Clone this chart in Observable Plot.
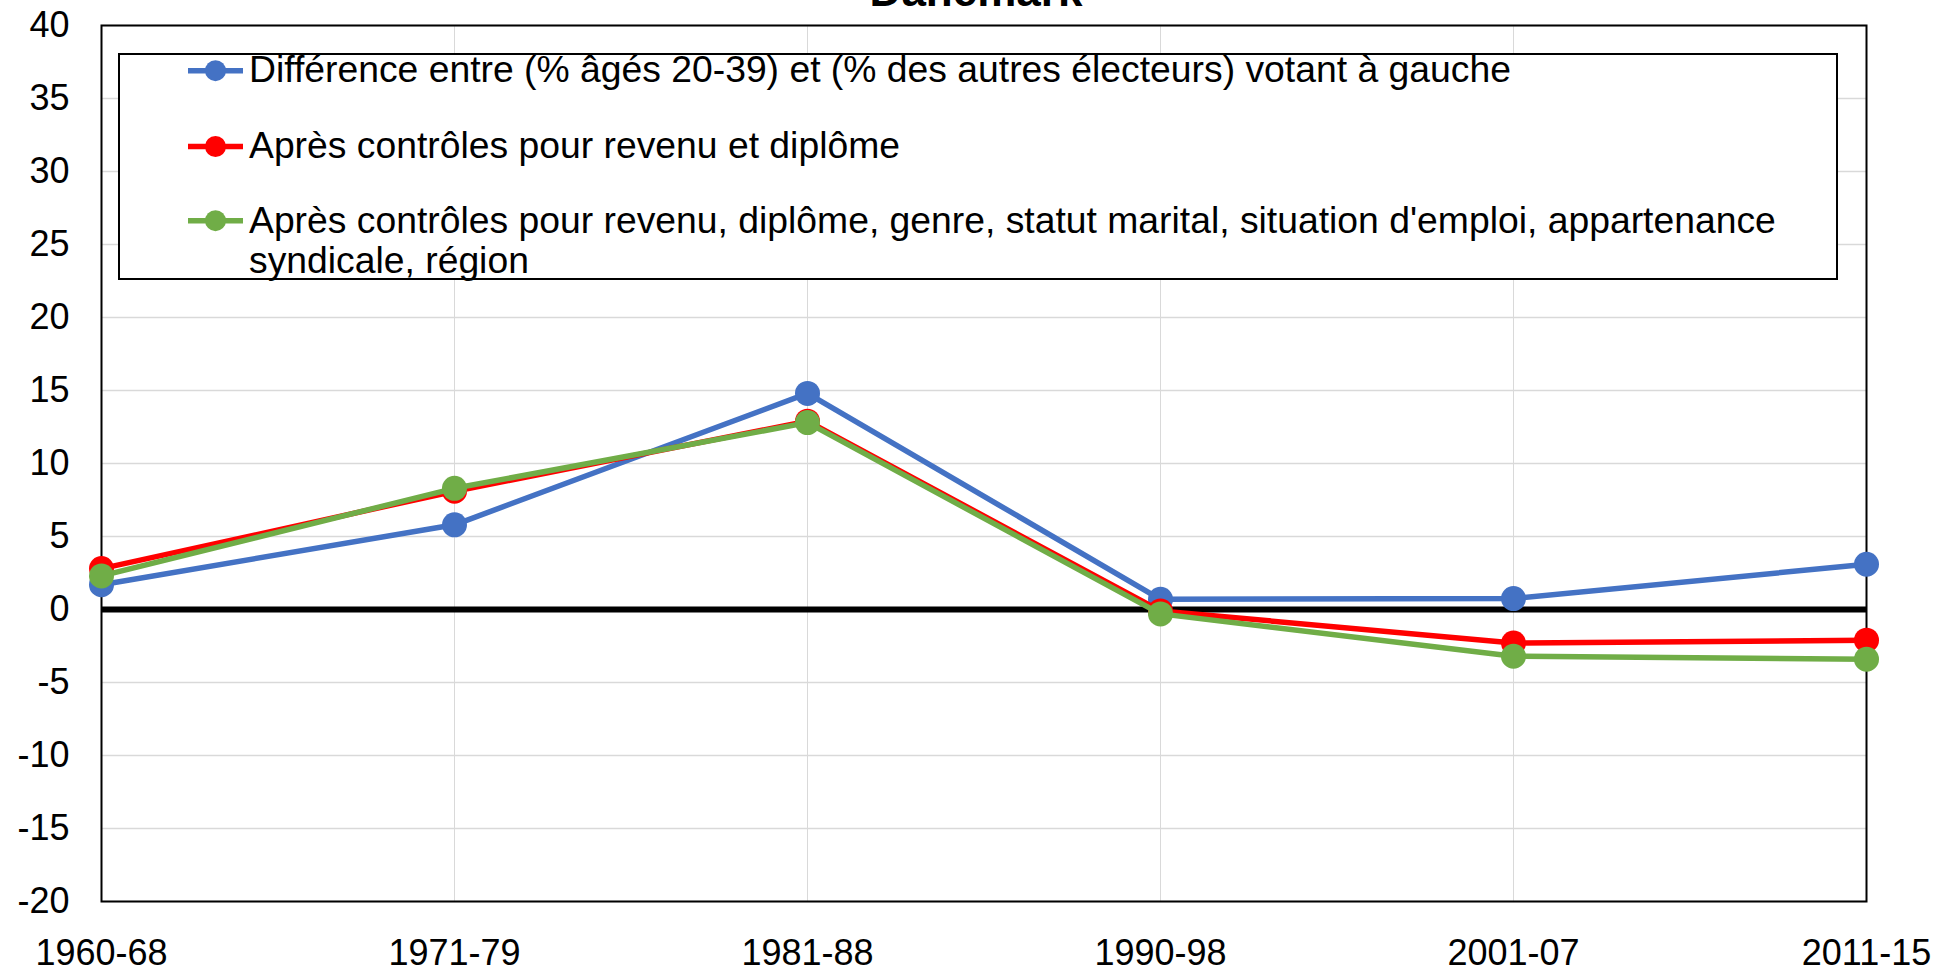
<!DOCTYPE html>
<html><head><meta charset="utf-8">
<script src="https://cdn.jsdelivr.net/npm/d3@7"></script>
<script src="https://cdn.jsdelivr.net/npm/@observablehq/plot@0.6"></script>
<style>
html,body{margin:0;padding:0;background:#fff;}
#wrap{position:relative;width:1957px;height:973px;overflow:hidden;}
#legend{position:absolute;left:0;top:0;}
</style></head><body><div id="wrap"></div>
<script>
const titleText = "Danemark";
const periods = ["1960-68","1971-79","1981-88","1990-98","2001-07","2011-15"];
const seriesNames = [
  "Différence entre (% âgés 20-39) et (% des autres électeurs) votant à gauche",
  "Après contrôles pour revenu et diplôme",
  "Après contrôles pour revenu, diplôme, genre, statut marital, situation d'emploi, appartenance syndicale, région"
];
const legendLines = [
  ["Différence entre (% âgés 20-39) et (% des autres électeurs) votant à gauche"],
  ["Après contrôles pour revenu et diplôme"],
  ["Après contrôles pour revenu, diplôme, genre, statut marital, situation d'emploi, appartenance", "syndicale, région"]
];
const diffRaw = [1.7, 5.8, 14.8, 0.7, 0.75, 3.1];
const ctrlIncomeEdu = [2.8, 8.1, 12.9, -0.1, -2.3, -2.1];
const ctrlAll = [2.3, 8.3, 12.8, -0.3, -3.2, -3.4];
const yTicks = [-20, -15, -10, -5, 0, 5, 10, 15, 20, 25, 30, 35, 40];
const colors = ["#4472C4", "#FF0000", "#70AD47"];

const valuesBySeries = [diffRaw, ctrlIncomeEdu, ctrlAll];
const data = [];
seriesNames.forEach((s, i) => periods.forEach((p, j) => data.push({series: s, period: p, value: valuesBySeries[i][j]})));

const font = '"Liberation Sans", Arial, sans-serif';
const seriesMarks = [];
seriesNames.forEach((s, i) => {
  const sub = data.filter(d => d.series === s);
  seriesMarks.push(Plot.line(sub, {x: "period", y: "value", stroke: colors[i], strokeWidth: 5.5}));
  seriesMarks.push(Plot.dot(sub, {x: "period", y: "value", fill: colors[i], r: 12.5, stroke: "none"}));
});

const chart = Plot.plot({
  width: 1957, height: 973,
  marginLeft: 101, marginRight: 91, marginTop: 25, marginBottom: 72,
  style: {fontFamily: font, fontSize: "36px", color: "#000", background: "#fff"},
  x: {type: "point", domain: periods, padding: 0, label: null},
  y: {domain: [-20, 40], label: null},
  marks: [
    Plot.gridY(yTicks, {stroke: "#d9d9d9", strokeOpacity: 1, strokeWidth: 1.5}),
    Plot.gridX(periods, {stroke: "#d9d9d9", strokeOpacity: 1, strokeWidth: 1}),
    Plot.axisY(yTicks, {tickSize: 0, tickPadding: 32, tickFormat: d => String(d), fontSize: 36, label: null}),
    Plot.axisX(periods, {tickSize: 0, tickPadding: 38, fontSize: 36, label: null}),
    Plot.ruleY([0], {stroke: "#000", strokeWidth: 6}),
    Plot.frame({stroke: "#000", strokeWidth: 2}),
    ...seriesMarks,
    Plot.text([titleText], {text: d => d, frameAnchor: "top", lineAnchor: "bottom", dy: -20, dx: -8, fontWeight: "bold", fontSize: 44, fill: "#000"})
  ]
});
document.getElementById("wrap").appendChild(chart);

// Legend overlay (inside plot area, as in the reference)
const leg = d3.select("#wrap").append("svg").attr("id", "legend")
  .attr("width", 1957).attr("height", 973)
  .style("font-family", font).style("font-size", "37.3px");
leg.append("rect").attr("x", 119).attr("y", 54).attr("width", 1718).attr("height", 225)
  .attr("fill", "#fff").attr("stroke", "#000").attr("stroke-width", 2);
const rowCenters = [70.7, 146.5, 220.7];
const rowBaselines = [[82], [158], [233, 273]];
legendLines.forEach((lines, i) => {
  const g = leg.append("g");
  g.append("line").attr("x1", 188).attr("x2", 243).attr("y1", rowCenters[i]).attr("y2", rowCenters[i])
    .attr("stroke", colors[i]).attr("stroke-width", 5.5);
  g.append("circle").attr("cx", 215.5).attr("cy", rowCenters[i]).attr("r", 10.5).attr("fill", colors[i]);
  lines.forEach((t, k) => {
    g.append("text").attr("x", 249).attr("y", rowBaselines[i][k]).attr("fill", "#000").text(t);
  });
});
</script></body></html>
